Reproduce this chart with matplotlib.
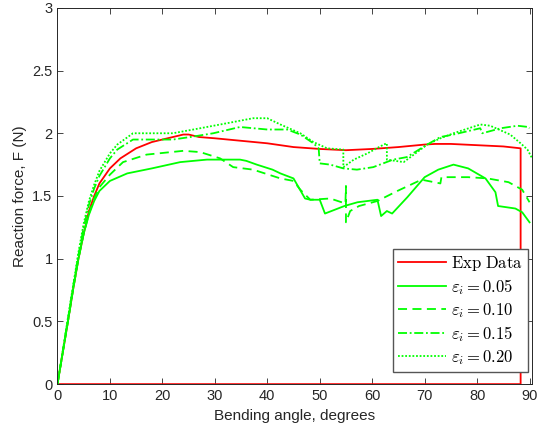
import numpy as np
import matplotlib
matplotlib.use("Agg")
import matplotlib.pyplot as plt

plt.rcParams['font.family'] = ['Liberation Sans', 'DejaVu Sans']
plt.rcParams['mathtext.fontset'] = 'cm'

# experimental curve (goes down to zero at the end and back along the axis)
exp_x = [0, 1, 2, 3, 4, 5, 6, 7, 8, 10, 12, 15, 18, 20, 22, 24, 25, 27, 30, 35, 40, 45,
         50, 55, 60, 65, 70, 72, 75, 80, 85, 88.3, 88.3, 0]
exp_y = [0, 0.25, 0.5, 0.76, 1.0, 1.2, 1.38, 1.5, 1.6, 1.72, 1.8, 1.88, 1.93, 1.95, 1.97, 1.99,
         1.99, 1.97, 1.96, 1.94, 1.92, 1.89, 1.875, 1.865, 1.875, 1.89, 1.91, 1.915, 1.915,
         1.905, 1.895, 1.88, 0, 0]

# eps_i = 0.05
e05_x = [0, 1, 2, 3, 4, 5, 6, 7, 8, 10, 13.3, 18, 23.4, 28.5, 34.8, 36, 38, 41, 42.5, 45,
         47.2, 48.2, 50, 51, 54.7, 57.2, 61, 61.7, 62.8, 63.8, 66.7, 70, 72.6, 75.5, 78.3,
         81.6, 83.5, 84, 87.3, 88.6, 90]
e05_y = [0, 0.25, 0.5, 0.76, 1.0, 1.2, 1.35, 1.46, 1.54, 1.62, 1.68, 1.72, 1.77, 1.79, 1.79,
         1.78, 1.75, 1.71, 1.68, 1.64, 1.48, 1.47, 1.47, 1.36, 1.42, 1.45, 1.47, 1.34, 1.38,
         1.36, 1.49, 1.65, 1.71, 1.75, 1.72, 1.64, 1.53, 1.42, 1.40, 1.37, 1.29]

# eps_i = 0.10
e10_x = [0, 1, 2, 3, 4, 5, 6, 7, 8, 10, 12.5, 17, 24, 27.2, 31, 33.5, 37.3, 42.5, 45, 46.3,
         48.2, 52, 54.9, 55, 55, 55.8, 57.5, 61, 64.8, 69.4, 73, 73.2, 78.3, 82, 86, 88.6, 90]
e10_y = [0, 0.25, 0.5, 0.76, 1.0, 1.2, 1.36, 1.48, 1.57, 1.67, 1.77, 1.83, 1.86, 1.85, 1.80,
         1.73, 1.71, 1.64, 1.62, 1.55, 1.47, 1.48, 1.44, 1.58, 1.29, 1.38, 1.42, 1.46, 1.54,
         1.63, 1.60, 1.65, 1.65, 1.64, 1.61, 1.55, 1.45]

# eps_i = 0.15
e15_x = [0, 1, 2, 3, 4, 5, 6, 7, 8, 10, 11.4, 14.4, 19, 22, 25.3, 29.7, 34.8, 40, 43.8,
         46.3, 48.8, 49.8, 50, 52, 54.5, 57.1, 60.2, 64, 66.6, 70.5, 73, 75.5, 80.6, 81,
         84.5, 87.7, 89.8, 90]
e15_y = [0, 0.26, 0.52, 0.78, 1.03, 1.25, 1.43, 1.56, 1.66, 1.8, 1.87, 1.95, 1.95, 1.95,
         1.97, 2.0, 2.05, 2.03, 2.03, 1.99, 1.92, 1.88, 1.76, 1.75, 1.72, 1.71, 1.73, 1.79,
         1.81, 1.91, 1.97, 1.99, 2.04, 2.0, 2.04, 2.06, 2.05, 2.04]

# eps_i = 0.20
e20_x = [0, 1, 2, 3, 4, 5, 6, 7, 8, 10, 11.4, 14.4, 18, 22, 27.2, 32.3, 37.3, 40, 42.5,
         46.3, 48.8, 51.4, 54.5, 54.5, 56.5, 59.1, 62.2, 62.8, 62.8, 66, 67.3, 70.5, 73,
         75.5, 80.6, 82.5, 86.3, 88.3, 89.6, 90.5]
e20_y = [0, 0.26, 0.53, 0.79, 1.05, 1.28, 1.46, 1.59, 1.7, 1.84, 1.91, 2.0, 2.0, 2.0, 2.04,
         2.08, 2.12, 2.12, 2.07, 2.0, 1.93, 1.88, 1.87, 1.73, 1.79, 1.84, 1.91, 1.92, 1.79,
         1.77, 1.81, 1.91, 1.96, 2.0, 2.07, 2.06, 1.99, 1.92, 1.87, 1.80]

xticks = np.arange(0, 91, 10)
yticks = [0, 0.5, 1, 1.5, 2, 2.5, 3]
ytick_labels = ['0', '0.5', '1', '1.5', '2', '2.5', '3']

fig = plt.figure(figsize=(5.37, 4.36), dpi=100)
ax = fig.add_axes([0.107, 0.119, 0.884, 0.863])

lw = 1.3
ax.plot(exp_x, exp_y, color='#ff0000', lw=lw, label=r'$\mathrm{Exp\ Data}$')
ax.plot(e05_x, e05_y, color='#00ff00', lw=lw, ls='-', label=r'$\varepsilon_i = 0.05$')
ax.plot(e10_x, e10_y, color='#00ff00', lw=lw, ls=(0, (5, 3)), label=r'$\varepsilon_i = 0.10$')
ax.plot(e15_x, e15_y, color='#00ff00', lw=lw, ls=(0, (5, 1.5, 1, 1.5)), label=r'$\varepsilon_i = 0.15$')
ax.plot(e20_x, e20_y, color='#00ff00', lw=lw, ls=(0, (1, 1)), label=r'$\varepsilon_i = 0.20$')

ax.set_xlim(0, 90.5)
ax.set_ylim(0, 3)
ax.set_xticks(xticks)
ax.set_yticks(yticks)
ax.set_yticklabels(ytick_labels)
ax.tick_params(direction='in', length=4, width=0.6, labelsize=10.5, colors='#262626',
               top=True, right=True)
for s in ax.spines.values():
    s.set_linewidth(0.7)
    s.set_color('#262626')
ax.set_xlabel('Bending angle, degrees', fontsize=11, color='#262626')
ax.set_ylabel('Reaction force, F (N)', fontsize=11, color='#262626')

leg = ax.legend(loc='lower right', bbox_to_anchor=(0.992, 0.032), borderaxespad=0,
                fontsize=12, handlelength=2.9, fancybox=False,
                framealpha=1, edgecolor='#555555', labelspacing=0.25,
                handletextpad=0.3, borderpad=0.3)
leg.get_frame().set_linewidth(1.0)

fig.savefig('out.png', dpi=100)
